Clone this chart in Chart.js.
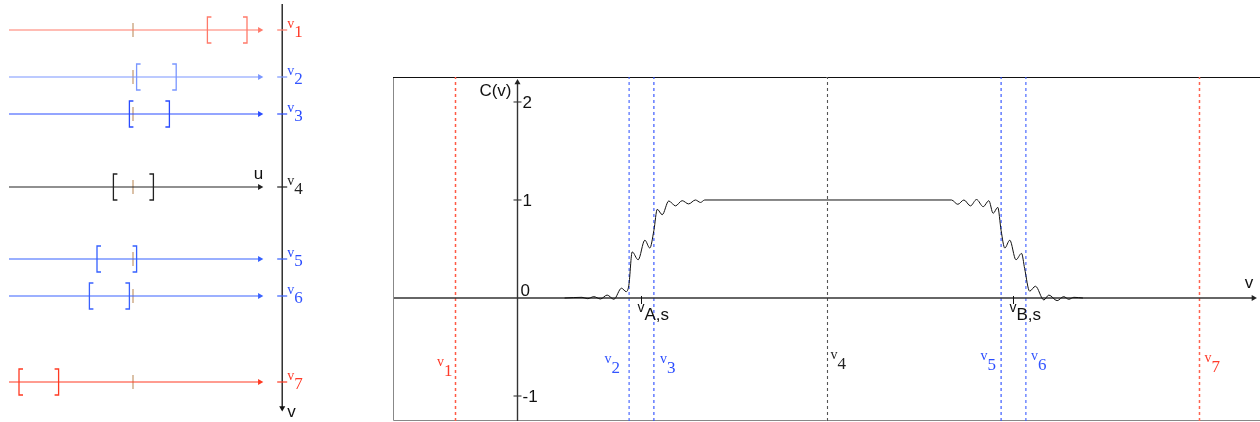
<!DOCTYPE html>
<html lang="en">
<head>
<meta charset="UTF-8">
<title>C(v)</title>
<script src="https://cdn.jsdelivr.net/npm/chart.js"></script>
<style>
  body { margin: 0; background: #fff; width: 1260px; height: 422px; position: relative; overflow: hidden; }
  canvas { position: absolute; top: 0; }
  #rows { left: 0; }
  #curve { left: 390px; }
</style>
</head>
<body>
<canvas id="rows" width="330" height="422"></canvas>
<canvas id="curve" width="870" height="422"></canvas>
<script>
// left panel: one row per v, with its interval [lo, hi] on the u axis
const rowNames = ["1", "2", "3", "4", "5", "6", "7"];
const rowV = [30, 77, 114, 187, 259, 296, 382];        // place on the v axis (panel units)
const bracketLo = [1.86, 0.09, -0.09, -0.49, -0.90, -1.09, -2.85];
const bracketHi = [2.85, 1.08, 0.91, 0.51, 0.09, -0.09, -1.86];
const uCentre = 0;

// right panel
const vLines = [-0.5, 0.9, 1.1, 2.5, 3.9, 4.1, 5.5];
const vSpecial = [1.0, 4.0];
const vSpecialNames = ["A,s", "B,s"];
const yTicks = [-1, 1, 2];
const curveV = [0.38, 0.52, 0.567, 0.615, 0.669, 0.723, 0.777, 0.839, 0.876, 0.898,
                0.925, 0.973, 1.027, 1.067, 1.10, 1.127, 1.167, 1.22, 1.274, 1.328,
                1.38, 1.435, 1.476, 1.51, 3.50, 3.551, 3.60, 3.653, 3.702, 3.756,
                3.801, 3.836, 3.873, 3.90, 3.93, 3.97, 4.02, 4.065, 4.09, 4.13,
                4.177, 4.245, 4.285, 4.352, 4.405, 4.446, 4.487, 4.56];
const curveC = [0, 0.007, -0.007, 0.014, -0.01, 0.03, -0.013, 0.1, 0.065, 0.13,
                0.47, 0.39, 0.59, 0.51, 0.69, 0.905, 0.85, 0.99, 0.94, 0.993,
                0.96, 1.0, 0.975, 1.0, 1.0, 0.956, 1.0, 0.94, 1.005, 0.932,
                0.993, 0.864, 0.925, 0.69, 0.51, 0.59, 0.39, 0.455, 0.30, 0.07,
                0.12, -0.02, 0.03, -0.027, 0.014, -0.013, 0.007, 0];

// styles
const rowColors = ["#ff7a6a", "#7a96ff", "#2a4cff", "#222222", "#3560ff", "#3a62ff", "#ff3a22"];
const labelColors = ["#ff3b2a", "#3355ff", "#2a4cff", "#222222", "#2a4cff", "#3355ff", "#ff3b2a"];
const dashColors = ["#ff5a45", "#3b5cff", "#2a4cff", "#555555", "#2a4cff", "#3b5cff", "#ff6450"];
const dashWidths = [1.5, 1.1, 1.1, 1.1, 1.1, 1.1, 1.5];
const tan = "#c8a078";
const SANS = '"Liberation Sans", Arial, sans-serif';
const SERIF = '"Liberation Serif", "Times New Roman", serif';

Chart.defaults.animation = false;
Chart.defaults.responsive = false;
Chart.defaults.events = [];
Chart.defaults.plugins.legend.display = false;
Chart.defaults.plugins.tooltip.enabled = false;

// "v" + subscript, as in the figure
function subLabel(ctx, x, y, main, sub, color, family, mainSize, subSize, drop, align) {
  ctx.save();
  ctx.fillStyle = color;
  ctx.textBaseline = "alphabetic";
  ctx.textAlign = "left";
  ctx.font = mainSize + "px " + family;
  const w1 = ctx.measureText(main).width;
  ctx.font = subSize + "px " + family;
  const w2 = ctx.measureText(sub).width;
  const x0 = align === "right" ? x - w1 - w2 : x;
  ctx.font = mainSize + "px " + family;
  ctx.fillText(main, x0, y);
  ctx.font = subSize + "px " + family;
  ctx.fillText(sub, x0 + w1, y + drop);
  ctx.restore();
}

function plainText(ctx, txt, x, y, align, baseline, size) {
  ctx.save();
  ctx.fillStyle = "#111";
  ctx.font = size + "px " + SANS;
  ctx.textAlign = align;
  ctx.textBaseline = baseline;
  ctx.fillText(txt, x, y);
  ctx.restore();
}

// ---------- left panel ----------
const uStart = -3.1, uEnd = 3.17, axisU = 3.73;
const serif = 0.1, halfH = 13;
const rowSets = [];
rowV.forEach((y, i) => {
  rowSets.push({
    data: [{x: uStart, y: y}, {x: uEnd, y: y}],
    showLine: true, borderColor: rowColors[i], borderWidth: 1.2,
    pointRadius: [0, 3.5], pointStyle: "triangle", rotation: 90,
    pointBackgroundColor: rowColors[i], pointBorderColor: rowColors[i], pointBorderWidth: 0
  });
  const lo = bracketLo[i], hi = bracketHi[i];
  rowSets.push({
    data: [
      {x: lo + serif, y: y - halfH}, {x: lo, y: y - halfH}, {x: lo, y: y + halfH}, {x: lo + serif, y: y + halfH},
      {x: lo, y: null},
      {x: hi - serif, y: y - halfH}, {x: hi, y: y - halfH}, {x: hi, y: y + halfH}, {x: hi - serif, y: y + halfH}
    ],
    showLine: true, spanGaps: false, borderColor: rowColors[i], borderWidth: 1.3, pointRadius: 0
  });
});
rowSets.push({
  data: rowV.map(y => ({x: uCentre, y: y})),
  pointStyle: "line", rotation: 90, pointRadius: 7, borderColor: tan, borderWidth: 1.3
});
rowSets.push({
  data: rowV.map(y => ({x: axisU, y: y})),
  pointStyle: "line", rotation: 0, pointRadius: 5, borderColor: rowColors, borderWidth: 1.2
});
rowSets.push({
  data: [{x: axisU, y: 4}, {x: axisU, y: 408}],
  showLine: true, borderColor: "#111", borderWidth: 1.3,
  pointRadius: [0, 3.5], pointStyle: "triangle", rotation: 180,
  pointBackgroundColor: "#111", pointBorderColor: "#111", pointBorderWidth: 0
});

new Chart(document.getElementById("rows"), {
  type: "scatter",
  data: { datasets: rowSets },
  options: {
    layout: { padding: 0, autoPadding: false },
    scales: {
      x: { type: "linear", display: false, min: -3.325, max: 4.925 },
      y: { type: "linear", display: false, min: 0, max: 422, reverse: true }
    }
  },
  plugins: [{
    id: "rowText",
    afterDatasetsDraw(chart) {
      const ctx = chart.ctx;
      const ax = chart.scales.x.getPixelForValue(axisU);
      rowV.forEach((v, i) => {
        const py = chart.scales.y.getPixelForValue(v);
        subLabel(ctx, ax + 5, py - 2, "v", rowNames[i], labelColors[i], SERIF, 14, 17, 9, "left");
      });
      const p4 = chart.scales.y.getPixelForValue(rowV[3]);
      plainText(ctx, "u", chart.scales.x.getPixelForValue(uEnd) - 6, p4 - 8, "left", "alphabetic", 17);
      plainText(ctx, "v", ax + 5, 417, "left", "alphabetic", 17);
    }
  }]
});

// ---------- right panel ----------
// range chosen so the dashed verticals land on whole pixels
const xMin = -0.996, xMax = 5.988, yMin = -1.255, yMax = 2.255;
const curveSets = [];
curveSets.push({
  data: curveV.map((v, i) => ({x: v, y: curveC[i]})),
  showLine: true, borderColor: "#111", borderWidth: 1, pointRadius: 0,
  cubicInterpolationMode: "monotone"
});
curveSets.push({
  data: [{x: xMin, y: 0}, {x: 5.935, y: 0}],
  showLine: true, borderColor: "#333", borderWidth: 1.6,
  pointRadius: [0, 3.5], pointStyle: "triangle", rotation: 90,
  pointBackgroundColor: "#222", pointBorderColor: "#222", pointBorderWidth: 0
});
curveSets.push({
  data: [{x: 0, y: yMin}, {x: 0, y: 2.2}],
  showLine: true, borderColor: "#333", borderWidth: 1.4,
  pointRadius: [0, 3.5], pointStyle: "triangle", rotation: 0,
  pointBackgroundColor: "#222", pointBorderColor: "#222", pointBorderWidth: 0
});
curveSets.push({
  data: yTicks.map(t => ({x: 0, y: t})),
  pointStyle: "line", rotation: 0, pointRadius: 4, borderColor: "#222", borderWidth: 1
});
vLines.forEach((v, i) => {
  curveSets.push({
    data: [{x: v, y: yMin}, {x: v, y: yMax}],
    showLine: true, borderColor: dashColors[i], borderWidth: dashWidths[i], borderDash: [3, 3], pointRadius: 0
  });
});

// label side of each dashed line, and its baseline below the v axis (px)
const labelDx = [-3, -9, 6, 3, -5, 5, 5];
const labelDy = [68, 65, 65, 61, 62, 62, 64];

new Chart(document.getElementById("curve"), {
  type: "scatter",
  data: { datasets: curveSets },
  options: {
    layout: { padding: { left: 4, top: 77, right: 0, bottom: 1 }, autoPadding: false },
    scales: {
      x: { type: "linear", display: false, min: xMin, max: xMax },
      y: { type: "linear", display: false, min: yMin, max: yMax }
    }
  },
  plugins: [{
    id: "frame",
    beforeDatasetsDraw(chart) {
      const ctx = chart.ctx, a = chart.chartArea;
      ctx.save();
      ctx.lineWidth = 1;
      ctx.strokeStyle = "#888";
      ctx.beginPath();
      ctx.moveTo(a.left - 0.5, a.top);
      ctx.lineTo(a.left - 0.5, a.bottom - 0.5);
      ctx.lineTo(a.right, a.bottom - 0.5);
      ctx.stroke();
      ctx.strokeStyle = "#111";
      ctx.beginPath();
      ctx.moveTo(a.left - 1, a.top + 0.5);
      ctx.lineTo(a.right, a.top + 0.5);
      ctx.stroke();
      ctx.restore();
    },
    afterDatasetsDraw(chart) {
      const ctx = chart.ctx, sx = chart.scales.x, sy = chart.scales.y;
      const x0 = sx.getPixelForValue(0), y0 = sy.getPixelForValue(0);
      plainText(ctx, "C(v)", x0 - 6, sy.getPixelForValue(2) - 6, "right", "alphabetic", 17);
      yTicks.forEach(t => {
        plainText(ctx, t < 0 ? "-" + Math.abs(t) : String(t), x0 + 5, sy.getPixelForValue(t) + 1, "left", "middle", 17);
      });
      plainText(ctx, "0", x0 + 3, y0 - 2, "left", "alphabetic", 17);
      plainText(ctx, "v", sx.getPixelForValue(5.9), y0 - 10, "center", "alphabetic", 17);
      vSpecial.forEach((v, i) => {
        const px = sx.getPixelForValue(v);
        ctx.save();
        ctx.strokeStyle = "#111";
        ctx.lineWidth = 1;
        ctx.beginPath();
        ctx.moveTo(Math.floor(px) + 0.5, y0 - 2);
        ctx.lineTo(Math.floor(px) + 0.5, y0 + 6);
        ctx.stroke();
        ctx.restore();
        subLabel(ctx, px - 4, y0 + 14, "v", vSpecialNames[i], "#111", SANS, 14, 17, 8, "left");
      });
      vLines.forEach((v, i) => {
        const px = sx.getPixelForValue(v) + labelDx[i];
        subLabel(ctx, px, y0 + labelDy[i], "v", rowNames[i], labelColors[i], SERIF, 14, 17, 10,
                 labelDx[i] < 0 ? "right" : "left");
      });
    }
  }]
});
</script>
</body>
</html>
